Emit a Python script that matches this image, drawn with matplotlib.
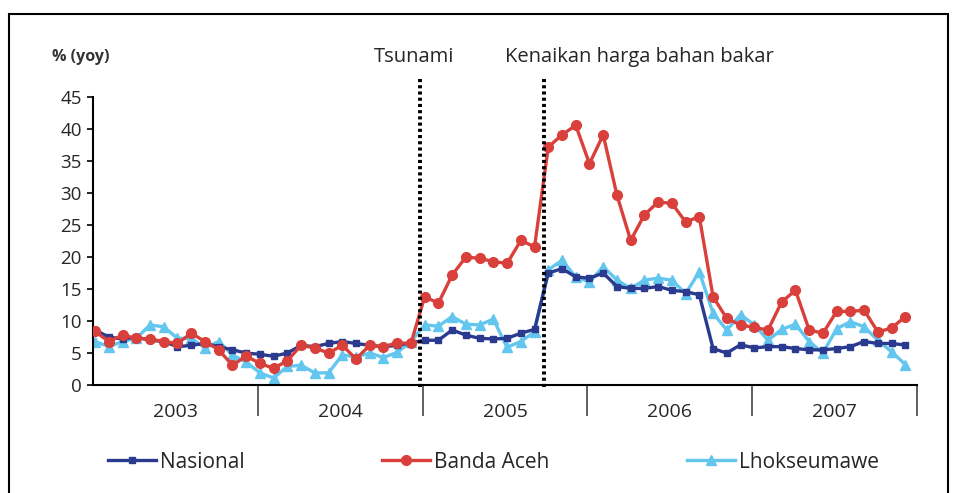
import numpy as np
import matplotlib
matplotlib.use('Agg')
import matplotlib.pyplot as plt
from matplotlib.patches import Rectangle

plt.rcParams['font.family'] = ['Open Sans', 'DejaVu Sans']

# data: monthly inflation (% yoy), Jan 2003 - Dec 2007
years = ['2003', '2004', '2005', '2006', '2007']
nasional = [8.6, 7.5, 7.2, 7.5, 7.0, 6.8, 6.0, 6.2, 6.5, 6.0, 5.5, 5.0,
            4.8, 4.5, 5.0, 6.2, 6.0, 6.5, 6.8, 6.5, 6.2, 6.0, 6.2, 6.6,
            7.0, 7.0, 8.6, 7.8, 7.3, 7.2, 7.3, 8.1, 8.7, 17.5, 18.2, 16.9,
            16.7, 17.5, 15.4, 15.1, 15.1, 15.4, 14.8, 14.6, 14.1, 5.7, 5.0, 6.3,
            5.8, 6.0, 6.0, 5.7, 5.5, 5.5, 5.7, 6.0, 6.8, 6.5, 6.5, 6.25]
banda_aceh = [8.4, 6.8, 7.8, 7.3, 7.2, 6.8, 6.5, 8.1, 6.8, 5.5, 3.1, 4.5,
              3.4, 2.6, 3.8, 6.2, 5.8, 5.0, 6.2, 4.1, 6.2, 6.0, 6.6, 6.5,
              13.8, 12.8, 17.2, 20.0, 19.8, 19.3, 19.0, 22.6, 21.6, 37.2, 39.1, 40.6,
              34.6, 39.1, 29.7, 22.6, 26.6, 28.6, 28.4, 25.5, 26.3, 13.8, 10.4, 9.4,
              9.0, 8.6, 13.0, 14.8, 8.6, 8.1, 11.5, 11.5, 11.7, 8.3, 8.9, 10.7]
lhokseumawe = [6.8, 6.0, 6.8, 7.3, 9.4, 9.1, 7.3, 7.3, 5.8, 6.8, 4.7, 3.6,
               1.9, 1.1, 2.9, 3.1, 1.9, 1.9, 4.7, 4.4, 5.0, 4.3, 5.1, 6.8,
               9.4, 9.2, 10.7, 9.5, 9.4, 10.3, 5.9, 6.8, 8.3, 18.0, 19.5, 16.9,
               16.1, 18.5, 16.4, 15.1, 16.4, 16.7, 16.4, 14.3, 17.7, 11.2, 8.6, 11.0,
               9.4, 7.0, 8.7, 9.5, 6.8, 5.0, 8.8, 9.9, 9.1, 7.0, 5.2, 3.2]
events = ['Tsunami', 'Kenaikan harga bahan bakar']
event_pos = [23.67, 32.7]

c_nas = '#2a3a8e'
c_ban = '#d9403b'
c_lho = '#62c6ee'
c_txt = '#262626'

fig = plt.figure(figsize=(9.57, 4.93), dpi=100)
ax = fig.add_axes([0.0972, 0.219, 0.861, 0.584])

x = np.arange(len(nasional))
ax.plot(x, nasional, color=c_nas, lw=2.4, marker='s', ms=4, label='Nasional', zorder=3)
ax.plot(x, banda_aceh, color=c_ban, lw=2.4, marker='o', ms=7, label='Banda Aceh', zorder=4)
ax.plot(x, lhokseumawe, color=c_lho, lw=2.4, marker='^', ms=7.5, label='Lhokseumawe', zorder=2)

for pos in event_pos:
    ax.plot([pos, pos], [-0.3, 48], color='black', lw=2.8, ls=(0, (0.8, 0.8)),
            clip_on=False, zorder=5)

ax.set_xlim(-0.15, 59.85)
ax.set_ylim(0, 45)
ax.set_yticks(np.arange(0, 46, 5))
bounds = [11.85 + 12 * k for k in range(5)]
ax.set_xticks([5.85 + 12 * k for k in range(5)])
ax.set_xticklabels(years)
ax.set_xticks(bounds, minor=True)
ax.tick_params(axis='x', which='major', length=0, pad=13, labelsize=14, labelcolor=c_txt)
ax.tick_params(axis='x', which='minor', length=22, width=1.2, color='#444444')
ax.tick_params(axis='y', length=4, width=1.2, labelsize=13.5, pad=4, labelcolor=c_txt)
for side in ['top', 'right']:
    ax.spines[side].set_visible(False)
for side in ['left', 'bottom']:
    ax.spines[side].set_linewidth(1.5)

fig.text(52 / 957, 1 - 57 / 493, '% (yoy)', fontsize=11.5, fontweight='bold',
         ha='left', va='center', color='#333333')
fig.text(414 / 957, 1 - 57 / 493, events[0], fontsize=14.5, ha='center', va='center',
         color=c_txt)
fig.text(505 / 957, 1 - 57 / 493, events[1], fontsize=14.5, ha='left', va='center',
         color=c_txt)

leg = fig.legend(loc='lower left', bbox_to_anchor=(0.093, 0.003, 0.845, 0.1), mode='expand',
                 ncol=3, frameon=False, fontsize=15, handlelength=2.3, handletextpad=0.2)
for t in leg.get_texts():
    t.set_color(c_txt)

fig.add_artist(Rectangle((9 / 957, -0.02), 939 / 957, 0.9916, transform=fig.transFigure,
                         fill=False, edgecolor='black', lw=1.5))

fig.savefig('out.png', dpi=100)
